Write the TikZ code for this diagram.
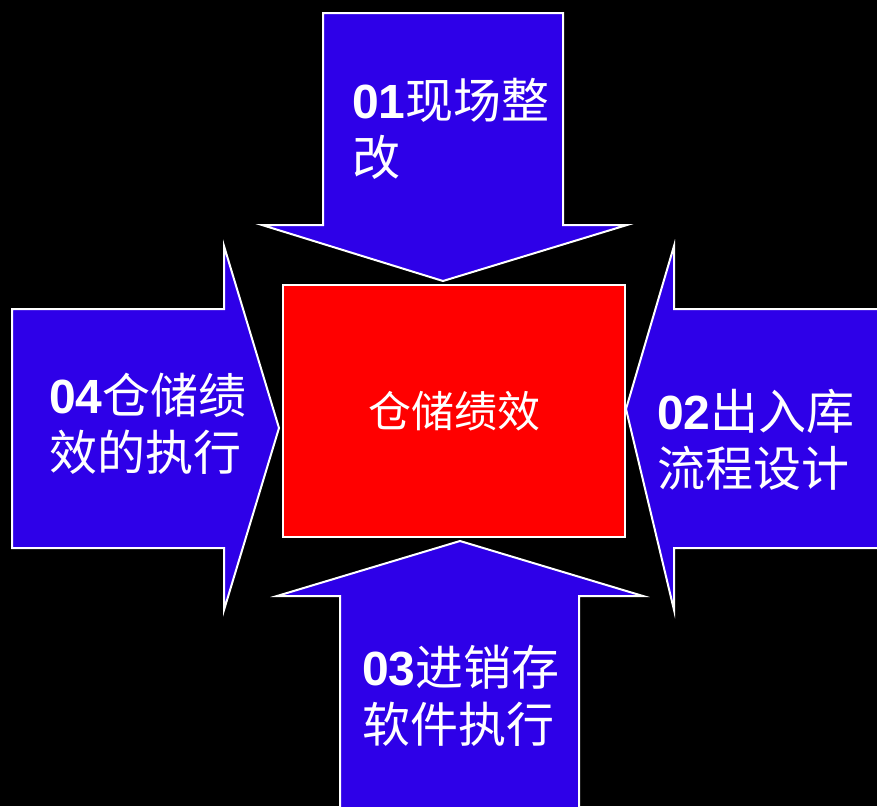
\documentclass[tikz,border=0pt]{standalone}
\usepackage{fontspec}
\setmainfont{Liberation Sans}
\newfontfamily\cjk{Noto Sans CJK SC}
\usepackage{tikz}
\usetikzlibrary{positioning}

\definecolor{arrowblue}{RGB}{46,0,232}

\begin{document}
\begin{tikzpicture}[x=1pt, y=-1pt]
	\tikzstyle{block} = [fill=arrowblue, draw=white, line width=2pt, line join=miter]
	\tikzstyle{goalbox} = [fill=red, draw=white, line width=2pt]
	\tikzstyle{arrowtext} = [text=white, align=left, inner sep=0pt, font=\fontsize{48}{57}\selectfont]

	% background
	\fill[black] (0,0) rectangle (877,806);
	\clip (0,0) rectangle (877,806);

	% four arrows
	\draw[block] (323,13) -- (563,13) -- (563,225) -- (627,225) -- (443,281)
		-- (262,225) -- (323,225) -- cycle;
	\draw[block] (890,309) -- (674,309) -- (674,246) -- (626,409) -- (674,610)
		-- (674,548) -- (890,548) -- cycle;
	\draw[block] (340,820) -- (340,596) -- (277,596) -- (460,541) -- (643,596)
		-- (579,596) -- (579,820) -- cycle;
	\draw[block] (12,309) -- (224,309) -- (224,246) -- (279,428) -- (224,610)
		-- (224,548) -- (12,548) -- cycle;

	% centre
	\draw[goalbox] (283,285) rectangle (625,537);
	\node[text=white, font=\fontsize{43}{50}\selectfont\cjk] (goal) at (454,411) {仓储绩效};

	% labels
	\node[arrowtext, anchor=west] (t1) at (352,129) {\textbf{01}{\cjk 现场整}\\{\cjk 改}};
	\node[arrowtext, anchor=west] (t2) at (657,440) {\textbf{02}{\cjk 出入库}\\{\cjk 流程设计}};
	\node[arrowtext, anchor=west] (t3) at (362,696) {\textbf{03}{\cjk 进销存}\\{\cjk 软件执行}};
	\node[arrowtext, anchor=west] (t4) at (49,424) {\textbf{04}{\cjk 仓储绩}\\{\cjk 效的执行}};
\end{tikzpicture}
\end{document}
